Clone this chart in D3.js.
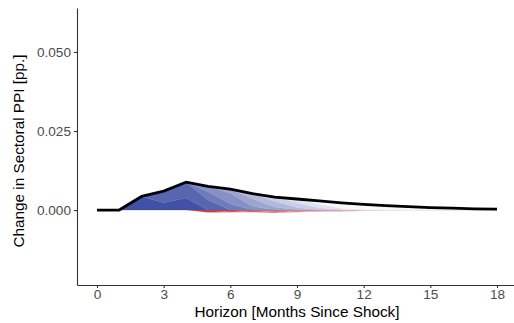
<!DOCTYPE html>
<html>
<head>
<meta charset="utf-8">
<script src="https://cdn.jsdelivr.net/npm/d3@7"></script>
<style>
  body { margin: 0; background: #fff; }
  svg { display: block; font-family: "Liberation Sans", Arial, sans-serif; }
</style>
</head>
<body>
<div id="chart"></div>
<script>
// ---- data ----
const horizons = d3.range(0, 19);
const xTicks = [0, 3, 6, 9, 12, 15, 18];
const yTicks = [0, 0.025, 0.05];

// net response (black line)
const totalEffect = [0, 0, 0.0043, 0.0060, 0.0088, 0.0075, 0.0066, 0.0052, 0.0041,
  0.0035, 0.0029, 0.0023, 0.0018, 0.0014, 0.0011, 0.0008, 0.0006, 0.0004, 0.0003];

// contribution of each round, by horizon 0..18
const round1  = [0, 0, 0.0043, 0.0023, 0.0038, -0.0008, -0.0003, 0, 0, 0, 0, 0, 0, 0, 0, 0, 0, 0, 0];
const round2  = [0, 0, 0, 0.0037, 0.0050, 0.0032, -0.0004, -0.0002, 0, 0, 0, 0, 0, 0, 0, 0, 0, 0, 0];
const round3  = [0, 0, 0, 0, 0, 0.0026, 0.0019, -0.0005, -0.0003, 0, 0, 0, 0, 0, 0, 0, 0, 0, 0];
const round4  = [0, 0, 0, 0, 0, 0.0017, 0.0034, 0.0012, -0.0006, -0.0002, 0, 0, 0, 0, 0, 0, 0, 0, 0];
const round5  = [0, 0, 0, 0, 0, 0, 0.0013, 0.0024, 0.0010, -0.0005, -0.0002, 0, 0, 0, 0, 0, 0, 0, 0];
const round6  = [0, 0, 0, 0, 0, 0, 0, 0.0016, 0.0018, 0.0008, -0.0003, -0.0002, 0, 0, 0, 0, 0, 0, 0];
const round7  = [0, 0, 0, 0, 0, 0, 0, 0, 0.0013, 0.0015, 0.0007, -0.0003, -0.0001, 0, 0, 0, 0, 0, 0];
const round8  = [0, 0, 0, 0, 0, 0, 0, 0, 0, 0.0012, 0.0012, 0.0006, -0.0002, -0.0001, 0, 0, 0, 0, 0];
const round9  = [0, 0, 0, 0, 0, 0, 0, 0, 0, 0, 0.0010, 0.0009, 0.0005, -0.0002, -0.0001, 0, 0, 0, 0];
const round10 = [0, 0, 0, 0, 0, 0, 0, 0, 0, 0, 0, 0.0008, 0.0007, 0.0004, -0.0001, 0, 0, 0, 0];
const round11 = [0, 0, 0, 0, 0, 0, 0, 0, 0, 0, 0, 0, 0.0006, 0.0005, 0.0003, -0.0001, 0, 0, 0];
const round12 = [0, 0, 0, 0, 0, 0, 0, 0, 0, 0, 0, 0, 0, 0.0005, 0.0004, 0.0003, 0.0001, 0, 0];
const round13 = [0, 0, 0, 0, 0, 0, 0, 0, 0, 0, 0, 0, 0, 0, 0.0004, 0.0003, 0.0002, 0.0001, 0];
const round14 = [0, 0, 0, 0, 0, 0, 0, 0, 0, 0, 0, 0, 0, 0, 0, 0.0002, 0.0002, 0.0002, 0.0002];

const rounds = [round1, round2, round3, round4, round5, round6, round7,
  round8, round9, round10, round11, round12, round13, round14];

// ---- layout ----
const W = 514, H = 323;
const svg = d3.select("#chart").append("svg")
  .attr("width", W).attr("height", H);

const x = d3.scaleLinear().domain([-0.9, 18.9]).range([77, 517]);
const y = d3.scaleLinear().domain([-0.0237, 0.0639]).range([285, 8]);

// split each round into positive / negative parts and stack each side on its own
const rows = horizons.map((h, i) => {
  const r = { h };
  rounds.forEach((s, k) => {
    r["p" + k] = Math.max(s[i], 0);
    r["n" + k] = Math.min(s[i], 0);
  });
  return r;
});
const posSeries = d3.stack().keys(rounds.map((_, k) => "p" + k))(rows);
const negSeries = d3.stack().keys(rounds.map((_, k) => "n" + k))(rows);

const blue = k => d3.interpolateRgb("#4151a5", "#ffffff")(Math.min(k * 0.12, 0.96));
const red = k => d3.interpolateRgb("#b93a46", "#ffffff")(Math.min(0.05 + k * 0.1, 0.95));

const area = d3.area()
  .x(d => x(d.data.h))
  .y0(d => y(d[0]))
  .y1(d => y(d[1]));

svg.append("g").selectAll("path")
  .data(posSeries)
  .join("path")
  .attr("fill", d => blue(+d.key.slice(1)))
  .attr("stroke", d => blue(+d.key.slice(1)))
  .attr("stroke-width", 0.3)
  .attr("d", area);

svg.append("g").selectAll("path")
  .data(negSeries)
  .join("path")
  .attr("fill", d => red(+d.key.slice(1)))
  .attr("d", area);

// net line
svg.append("path")
  .datum(horizons)
  .attr("fill", "none")
  .attr("stroke", "#000")
  .attr("stroke-width", 2.8)
  .attr("stroke-linejoin", "round")
  .attr("d", d3.line().x(h => x(h)).y((h, i) => y(totalEffect[i])));

// ---- axes ----
const xAxis = svg.append("g")
  .attr("transform", `translate(0,285)`)
  .call(d3.axisBottom(x).tickValues(xTicks).tickSize(3).tickSizeOuter(0).tickPadding(1));
const yAxis = svg.append("g")
  .attr("transform", `translate(77,0)`)
  .call(d3.axisLeft(y).tickValues(yTicks).tickFormat(d3.format(".3f"))
    .tickSize(3).tickSizeOuter(0).tickPadding(3));

[xAxis, yAxis].forEach(a => {
  a.select(".domain").attr("stroke", "#333").attr("stroke-width", 1.1);
  a.selectAll(".tick line").attr("stroke", "#333").attr("stroke-width", 1.1);
  a.selectAll(".tick text").attr("fill", "#4d4d4d")
    .style("font-size", "13.6px").style("font-family", "Liberation Sans, Arial, sans-serif");
});

// ---- titles ----
svg.append("text")
  .attr("x", 297).attr("y", 317)
  .attr("text-anchor", "middle")
  .style("font-size", "15.3px")
  .attr("fill", "#000")
  .text("Horizon [Months Since Shock]");

svg.append("text")
  .attr("transform", "translate(24,151) rotate(-90)")
  .attr("text-anchor", "middle")
  .style("font-size", "15.3px")
  .attr("fill", "#000")
  .text("Change in Sectoral PPI [pp.]");
</script>
</body>
</html>
